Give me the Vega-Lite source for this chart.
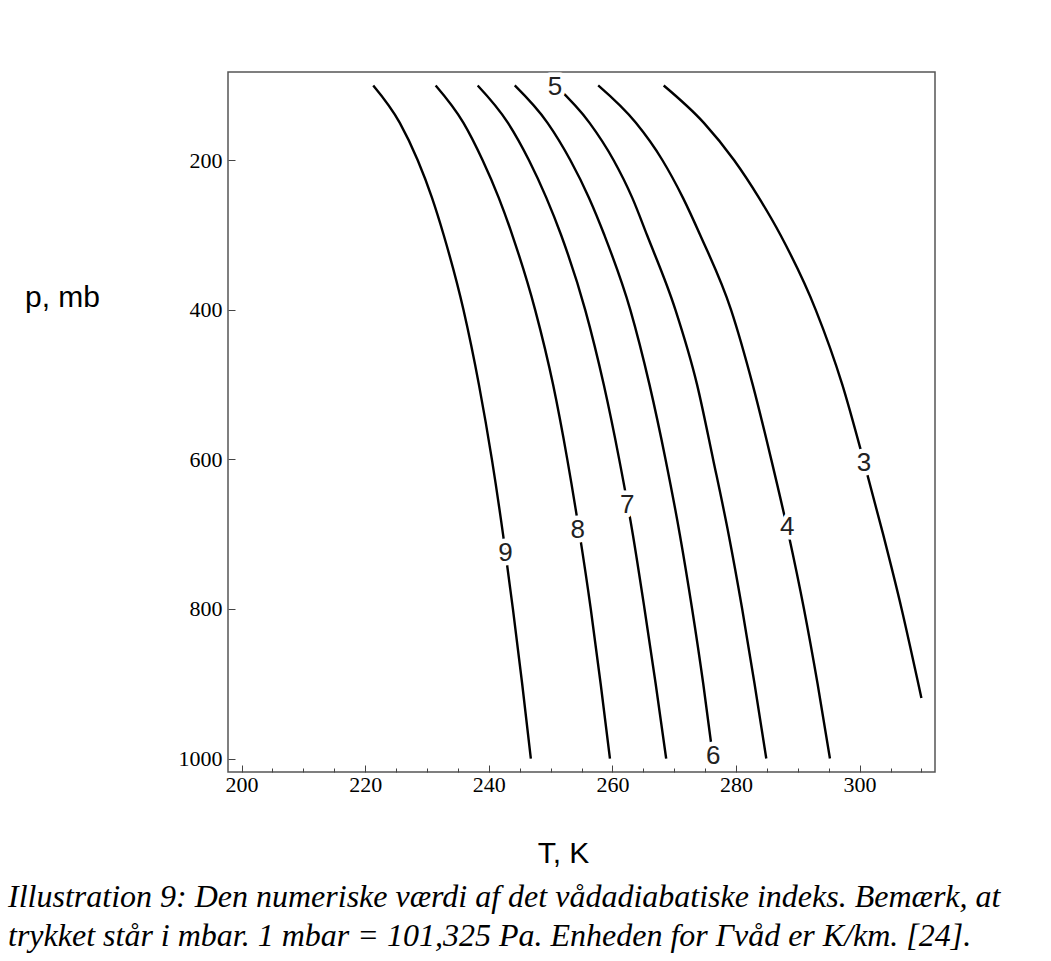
{
  "$schema": "https://vega.github.io/schema/vega-lite/v6.json",
  "width": 707,
  "height": 700,
  "autosize": "none",
  "padding": {"left": 228, "top": 72, "right": 116, "bottom": 189},
  "background": "white",
  "config": {"view": {"stroke": "#555555", "strokeWidth": 1.5}},
  "title": {
    "text": ["Illustration 9: Den numeriske værdi af det vådadiabatiske indeks. Bemærk, at", "trykket står i mbar. 1 mbar = 101,325 Pa. Enheden for Γvåd er K/km. [24]."],
    "orient": "bottom",
    "anchor": "start",
    "frame": "group",
    "font": "Liberation Serif",
    "fontStyle": "italic",
    "fontWeight": "normal",
    "fontSize": 32,
    "lineHeight": 39,
    "color": "black",
    "dx": -220,
    "offset": 14
  },
  "datasets": {
    "curves": [
      {"g": "9", "T": 221.3, "p": 100}, {"g": "9", "T": 225.6, "p": 150}, {"g": "9", "T": 228.5, "p": 200}, {"g": "9", "T": 230.8, "p": 250}, {"g": "9", "T": 232.7, "p": 300}, {"g": "9", "T": 235.9, "p": 400}, {"g": "9", "T": 238.4, "p": 500}, {"g": "9", "T": 240.5, "p": 600}, {"g": "9", "T": 242.3, "p": 700}, {"g": "9", "T": 243.9, "p": 800}, {"g": "9", "T": 245.4, "p": 900}, {"g": "9", "T": 246.8, "p": 1000},
      {"g": "8", "T": 231.4, "p": 100}, {"g": "8", "T": 235.9, "p": 150}, {"g": "8", "T": 239.0, "p": 200}, {"g": "8", "T": 241.6, "p": 250}, {"g": "8", "T": 243.8, "p": 300}, {"g": "8", "T": 247.5, "p": 400}, {"g": "8", "T": 250.4, "p": 500}, {"g": "8", "T": 252.7, "p": 600}, {"g": "8", "T": 254.7, "p": 700}, {"g": "8", "T": 256.5, "p": 800}, {"g": "8", "T": 258.1, "p": 900}, {"g": "8", "T": 259.6, "p": 1000},
      {"g": "7", "T": 238.2, "p": 100}, {"g": "7", "T": 243.1, "p": 150}, {"g": "7", "T": 246.5, "p": 200}, {"g": "7", "T": 249.3, "p": 250}, {"g": "7", "T": 251.7, "p": 300}, {"g": "7", "T": 255.6, "p": 400}, {"g": "7", "T": 258.6, "p": 500}, {"g": "7", "T": 261.1, "p": 600}, {"g": "7", "T": 263.3, "p": 700}, {"g": "7", "T": 265.2, "p": 800}, {"g": "7", "T": 267.0, "p": 900}, {"g": "7", "T": 268.7, "p": 1000},
      {"g": "6", "T": 244.2, "p": 100}, {"g": "6", "T": 249.5, "p": 150}, {"g": "6", "T": 253.2, "p": 200}, {"g": "6", "T": 256.2, "p": 250}, {"g": "6", "T": 258.7, "p": 300}, {"g": "6", "T": 262.9, "p": 400}, {"g": "6", "T": 266.0, "p": 500}, {"g": "6", "T": 268.6, "p": 600}, {"g": "6", "T": 270.9, "p": 700}, {"g": "6", "T": 272.9, "p": 800}, {"g": "6", "T": 274.7, "p": 900}, {"g": "6", "T": 276.3, "p": 1000},
      {"g": "5", "T": 250.8, "p": 100}, {"g": "5", "T": 256.3, "p": 150}, {"g": "5", "T": 260.2, "p": 200}, {"g": "5", "T": 263.2, "p": 250}, {"g": "5", "T": 265.6, "p": 300}, {"g": "5", "T": 270.2, "p": 400}, {"g": "5", "T": 273.7, "p": 500}, {"g": "5", "T": 276.3, "p": 600}, {"g": "5", "T": 278.8, "p": 700}, {"g": "5", "T": 281.0, "p": 800}, {"g": "5", "T": 283.0, "p": 900}, {"g": "5", "T": 284.9, "p": 1000},
      {"g": "4", "T": 257.7, "p": 100}, {"g": "4", "T": 263.8, "p": 150}, {"g": "4", "T": 268.1, "p": 200}, {"g": "4", "T": 271.4, "p": 250}, {"g": "4", "T": 274.2, "p": 300}, {"g": "4", "T": 279.2, "p": 400}, {"g": "4", "T": 282.7, "p": 500}, {"g": "4", "T": 285.7, "p": 600}, {"g": "4", "T": 288.5, "p": 700}, {"g": "4", "T": 291.0, "p": 800}, {"g": "4", "T": 293.2, "p": 900}, {"g": "4", "T": 295.2, "p": 1000},
      {"g": "3", "T": 268.3, "p": 100}, {"g": "3", "T": 274.8, "p": 150}, {"g": "3", "T": 279.7, "p": 200}, {"g": "3", "T": 283.7, "p": 250}, {"g": "3", "T": 287.2, "p": 300}, {"g": "3", "T": 292.9, "p": 400}, {"g": "3", "T": 297.2, "p": 500}, {"g": "3", "T": 300.6, "p": 600}, {"g": "3", "T": 303.8, "p": 700}, {"g": "3", "T": 306.8, "p": 800}, {"g": "3", "T": 309.5, "p": 900}, {"g": "3", "T": 310.0, "p": 919}
    ],
    "labels": [
      {"label": "9", "T": 242.7, "p": 725},
      {"label": "8", "T": 254.4, "p": 695},
      {"label": "7", "T": 262.4, "p": 661},
      {"label": "6", "T": 276.3, "p": 997},
      {"label": "5", "T": 250.7, "p": 102},
      {"label": "4", "T": 288.3, "p": 691},
      {"label": "3", "T": 300.7, "p": 605}
    ]
  },
  "encoding": {
    "x": {
      "field": "T", "type": "quantitative",
      "scale": {"domain": [197.8, 312.2], "nice": false, "zero": false},
      "axis": {
        "values": [200, 205, 210, 215, 220, 225, 230, 235, 240, 245, 250, 255, 260, 265, 270, 275, 280, 285, 290, 295, 300, 305, 310],
        "labelExpr": "datum.value % 20 === 0 ? datum.label : ''",
        "format": "d",
        "tickSize": {"condition": {"test": "datum.value % 20 === 0", "value": -7}, "value": -4},
        "tickColor": "#444444",
        "domain": false,
        "grid": false,
        "labelFont": "Liberation Serif",
        "labelFontSize": 22,
        "labelColor": "black",
        "labelPadding": 9,
        "labelFlush": false,
        "labelOverlap": false,
        "title": "T, K",
        "titleFont": "Liberation Sans",
        "titleFontSize": 30,
        "titleFontWeight": "normal",
        "titleColor": "black",
        "titleX": 335,
        "titleY": 81,
        "titleAlign": "center",
        "titleBaseline": "middle"
      }
    },
    "y": {
      "field": "p", "type": "quantitative",
      "scale": {"domain": [82, 1018], "nice": false, "zero": false, "reverse": true},
      "axis": {
        "values": [200, 400, 600, 800, 1000],
        "format": "d",
        "tickSize": -7,
        "tickColor": "#444444",
        "domain": false,
        "grid": false,
        "labelFont": "Liberation Serif",
        "labelFontSize": 22,
        "labelColor": "black",
        "labelPadding": 13,
        "labelFlush": false,
        "labelOverlap": false,
        "title": "p, mb",
        "titleFont": "Liberation Sans",
        "titleFontSize": 30,
        "titleFontWeight": "normal",
        "titleColor": "black",
        "titleAngle": 0,
        "titleX": -166,
        "titleY": 225,
        "titleAlign": "center",
        "titleBaseline": "middle"
      }
    }
  },
  "layer": [
    {
      "data": {"name": "curves"},
      "mark": {"type": "line", "color": "black", "strokeWidth": 2.4, "interpolate": "monotone"},
      "encoding": {
        "detail": {"field": "g", "type": "nominal"},
        "order": {"field": "p", "type": "quantitative"}
      }
    },
    {
      "data": {"name": "labels"},
      "mark": {"type": "text", "font": "Liberation Sans", "fontSize": 26, "stroke": "white", "strokeWidth": 9, "strokeJoin": "round", "align": "center", "baseline": "middle"},
      "encoding": {"text": {"field": "label"}}
    },
    {
      "data": {"name": "labels"},
      "mark": {"type": "text", "font": "Liberation Sans", "fontSize": 26, "color": "#222222", "align": "center", "baseline": "middle"},
      "encoding": {"text": {"field": "label"}}
    }
  ]
}
